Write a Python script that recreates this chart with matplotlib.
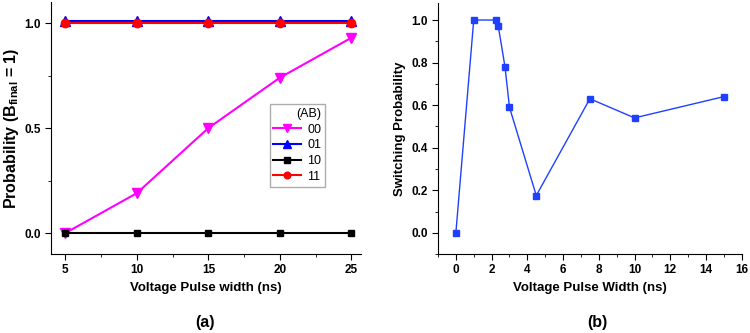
import matplotlib
matplotlib.use("Agg")
import matplotlib.pyplot as plt
from matplotlib.ticker import MultipleLocator

plt.rcParams["font.family"] = ["Liberation Sans", "DejaVu Sans"]
plt.rcParams["mathtext.fontset"] = "custom"
plt.rcParams["mathtext.bf"] = "Liberation Sans:bold"
plt.rcParams["mathtext.rm"] = "Liberation Sans"

# panel (a) data
pulse_a = [5, 10, 15, 20, 25]
p00 = [0.0, 0.19, 0.5, 0.74, 0.93]
p01 = [1.01, 1.01, 1.01, 1.01, 1.01]
p10 = [0.0, 0.0, 0.0, 0.0, 0.0]
p11 = [1.0, 1.0, 1.0, 1.0, 1.0]

# panel (b) data
pulse_b = [0, 1, 2.25, 2.375, 2.75, 3, 4.5, 7.5, 10, 15]
switch_prob = [0.0, 1.0, 1.0, 0.97, 0.78, 0.59, 0.175, 0.63, 0.54, 0.64]

fig = plt.figure(figsize=(7.5, 3.33), dpi=100)
ax1 = fig.add_axes([0.068, 0.237, 0.413, 0.757])
ax2 = fig.add_axes([0.584, 0.237, 0.405, 0.754])

def style(ax):
    ax.spines["top"].set_visible(False)
    ax.spines["right"].set_visible(False)
    ax.tick_params(which="both", direction="out", labelsize=8.5)
    ax.tick_params(which="major", length=4)
    ax.tick_params(which="minor", length=2)
    for lbl in ax.get_xticklabels() + ax.get_yticklabels():
        lbl.set_fontweight("bold")

# (a)
ax1.plot(pulse_a, p00, color="#ff00ff", marker="v", ms=6.5, lw=1.5, label="00")
ax1.plot(pulse_a, p11, color="red", marker="o", ms=6, lw=1.5, label="11", zorder=2)
ax1.plot(pulse_a, p01, color="blue", marker="^", ms=6.5, lw=1.5, label="01", zorder=1.9)
ax1.plot(pulse_a, p10, color="black", marker="s", ms=5, lw=1.5, label="10")
ax1.set_xlim(4, 25.65)
ax1.set_ylim(-0.1, 1.1)
ax1.set_xticks(pulse_a)
ax1.set_yticks([0.0, 0.5, 1.0])
ax1.set_yticklabels(["0.0", "0.5", "1.0"])
ax1.xaxis.set_minor_locator(MultipleLocator(2.5))
ax1.yaxis.set_minor_locator(MultipleLocator(0.25))
ax1.set_xlabel("Voltage Pulse width (ns)", fontsize=9.5, fontweight="bold")
ax1.set_ylabel("Probability (B$_{\\mathbf{final}}$ = 1)", fontsize=11.5, fontweight="bold",
               labelpad=2)
h, l = ax1.get_legend_handles_labels()
order = [l.index(k) for k in ["00", "01", "10", "11"]]
leg = ax1.legend([h[i] for i in order], [l[i] for i in order], title="(AB)",
                 loc="upper left", bbox_to_anchor=(0.706, 0.595), borderaxespad=0,
                 fontsize=9, title_fontsize=9, fancybox=False, edgecolor="#999999",
                 handlelength=2.2, handletextpad=0.5, labelspacing=0.3,
                 borderpad=0.3, markerscale=0.8, alignment="right")
style(ax1)

# (b)
ax2.plot(pulse_b, switch_prob, color="#2040ff", marker="s", ms=4, lw=1)
ax2.set_xlim(-1, 16)
ax2.set_ylim(-0.1, 1.08)
ax2.set_xticks(range(0, 17, 2))
ax2.set_yticks([0.0, 0.2, 0.4, 0.6, 0.8, 1.0])
ax2.xaxis.set_minor_locator(MultipleLocator(1))
ax2.yaxis.set_minor_locator(MultipleLocator(0.1))
ax2.set_xlabel("Voltage Pulse Width (ns)", fontsize=9.5, fontweight="bold")
ax2.set_ylabel("Switching Probability", fontsize=9.5, fontweight="bold")
style(ax2)

fig.text(0.273, 0.018, "(a)", fontsize=11.5, fontweight="bold", ha="center")
fig.text(0.797, 0.018, "(b)", fontsize=11.5, fontweight="bold", ha="center")

fig.savefig("out.png", dpi=100)
